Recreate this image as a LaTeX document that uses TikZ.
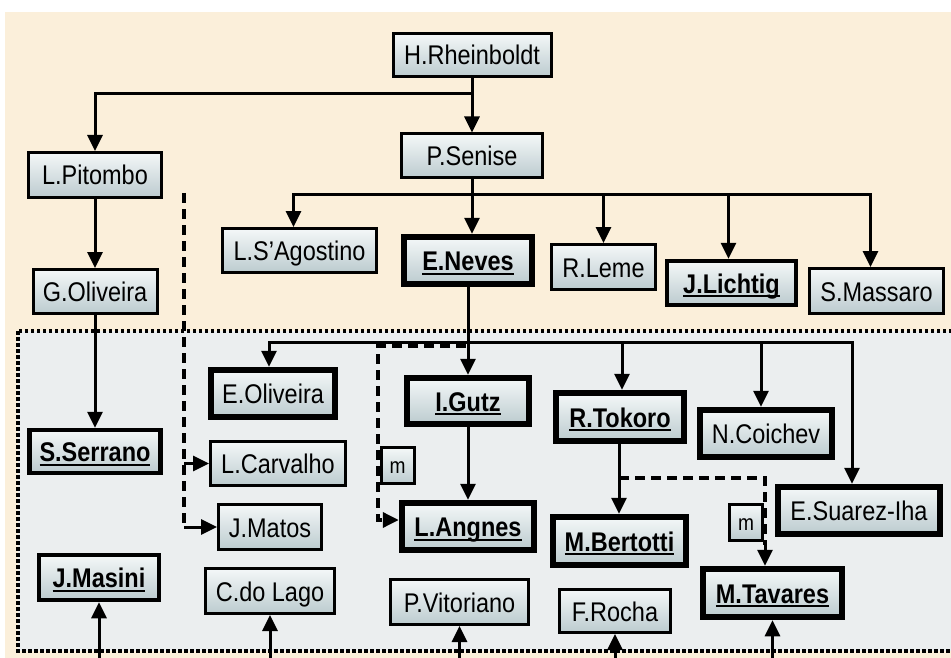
\documentclass[tikz,border=0pt]{standalone}
\usepackage{fontspec}
\setmainfont{Liberation Sans}[FakeStretch=0.87]
\usetikzlibrary{arrows.meta}
\definecolor{beige}{HTML}{FBEFDA}
\definecolor{panel}{HTML}{EBEEEF}
\definecolor{boxtop}{HTML}{F4F8F8}
\definecolor{boxbot}{HTML}{BCCBCF}
\newsavebox\leadbox
\newcommand\lead[1]{\sbox\leadbox{\bfseries #1}\rlap{\rule[-4pt]{\wd\leadbox}{2pt}}\usebox\leadbox}
\begin{document}
\begin{tikzpicture}[x=1pt,y=-1pt,line width=3pt,
  pbox/.style={draw,top color=boxtop,bottom color=boxbot,inner sep=0pt,font=\fontsize{27}{30}\selectfont,text height=20pt,text depth=0pt},
  pboxm/.style={pbox,line width=4.5pt},
  pboxt/.style={pbox,line width=6.5pt},
  mbox/.style={pbox,font=\fontsize{22}{24}\selectfont,text height=15pt,minimum width=33pt,minimum height=36pt},
  arr/.style={-{Triangle[width=15pt,length=16pt]}},
  dsh/.style={dash pattern=on 10pt off 6pt,line width=3.5pt}]
\useasboundingbox (0,0) rectangle (951,658);
\fill[white] (0,0) rectangle (951,658);
\fill[beige] (5,12) rectangle (951,658);
\draw[fill=panel,line width=3.5pt,dash pattern=on 3.5pt off 2.5pt] (18,331) rectangle (960,651);
%first generations
\node[pbox,minimum width=158pt,minimum height=43pt] (rh) at (472,55) {H.Rheinboldt};
\node[pbox,minimum width=141pt,minimum height=44pt] (ps) at (472,156) {P.Senise};
\node[pbox,minimum width=133pt,minimum height=45pt] (lp) at (95,175) {L.Pitombo};
\node[pbox,minimum width=124pt,minimum height=44pt] (go) at (95,291.5) {G.Oliveira};
\node[pbox,minimum width=154pt,minimum height=44pt] (lsa) at (299.5,250.5) {L.S’Agostino};
\node[pboxt,minimum width=128pt,minimum height=47pt] (en) at (468,260.5) {\lead{E.Neves}};
\node[pbox,minimum width=104pt,minimum height=45pt] (rl) at (603.5,267) {R.Leme};
\node[pboxm,minimum width=129pt,minimum height=44pt] (jl) at (731.5,283) {\lead{J.Lichtig}};
\node[pbox,minimum width=134pt,minimum height=45pt] (sm) at (876.5,291) {S.Massaro};
%inside the dotted panel
\node[pboxt,minimum width=124pt,minimum height=47pt] (eo) at (273,393.5) {E.Oliveira};
\node[pboxm,minimum width=131pt,minimum height=43pt] (ss) at (95,451.5) {\lead{S.Serrano}};
\node[pbox,minimum width=135pt,minimum height=44pt] (lc) at (278,463.5) {L.Carvalho};
\node[pbox,minimum width=103pt,minimum height=45pt] (jm) at (270,527) {J.Matos};
\node[pboxm,minimum width=120pt,minimum height=45pt] (jms) at (99,577.5) {\lead{J.Masini}};
\node[pbox,minimum width=129pt,minimum height=45pt] (cl) at (270,591) {C.do Lago};
\node[mbox] (m1) at (397.5,465.5) {m};
\node[pboxt,minimum width=122pt,minimum height=46pt] (ig) at (468,401) {\lead{I.Gutz}};
\node[pboxt,minimum width=132pt,minimum height=47pt] (la) at (468,526.5) {\lead{L.Angnes}};
\node[pbox,minimum width=138pt,minimum height=45pt] (pv) at (459.5,602) {P.Vitoriano};
\node[pboxt,minimum width=128pt,minimum height=48pt] (rt) at (620,417) {\lead{R.Tokoro}};
\node[pboxt,minimum width=132pt,minimum height=47pt] (nc) at (766,433.5) {N.Coichev};
\node[pboxt,minimum width=162pt,minimum height=47pt] (es) at (859,510.5) {E.Suarez-Iha};
\node[pboxt,minimum width=133pt,minimum height=48pt] (mb) at (619.5,541) {\lead{M.Bertotti}};
\node[pbox,minimum width=111pt,minimum height=43pt] (fr) at (615,611) {F.Rocha};
\node[pboxt,minimum width=139pt,minimum height=48pt] (mt) at (772.5,593) {\lead{M.Tavares}};
\node[mbox] (m2) at (746,522.5) {m};
%solid links
\coordinate (j1) at (472,94);
\coordinate (j2) at (472,195);
\coordinate (j3) at (468,342);
\draw[arr] (rh) -- (ps);
\draw[arr] (j1) -| (lp);
\draw[arr] (lp) -- (go);
\draw[arr] (go) -- (ss);
\draw[arr] (ps) -- (j2 |- en.north);
\draw[arr] (j2) -| ([xshift=-6pt]lsa.north);
\draw[arr] (j2) -| (rl);
\draw[arr] (j2) -| ([xshift=-3pt]jl.north);
\draw[arr] (j2) -| ([xshift=-6pt]sm.north);
\draw[arr] (en) -- (ig);
\draw[arr] (j3) -| ([xshift=-4pt]eo.north);
\draw[arr] (j3) -| ([xshift=2pt]rt.north);
\draw[arr] (j3) -| ([xshift=-5pt]nc.north);
\draw[arr] (j3) -| ([xshift=-7pt]es.north);
\draw[arr] (ig) -- (la);
\draw[arr] ([xshift=-1pt]rt.south) -- ([xshift=-1pt]rt.south |- mb.north);
%dashed links
\coordinate (dtop) at (184,193);
\coordinate (dbot) at (184,527);
\draw[dsh] (dtop) -- (dbot);
\draw[arr] (dtop |- lc) -- (lc);
\draw[arr] (dbot) -- (jm);
\coordinate (d1) at (466,346);
\draw[dsh,arr] (d1) -| (378,520) -- ([yshift=6.5pt]la.west);
\coordinate (d2) at (619,478);
\coordinate (d3) at (765,545);
\draw[dsh] (d2) -| (d3);
\draw[arr] (d3) -- (d3 |- mt.north);
%arrows coming from below
\coordinate (bot) at (0,664);
\foreach \n in {jms,cl,pv,fr,mt}
  \draw[arr] (\n.south |- bot) -- (\n.south);
\end{tikzpicture}
\end{document}
